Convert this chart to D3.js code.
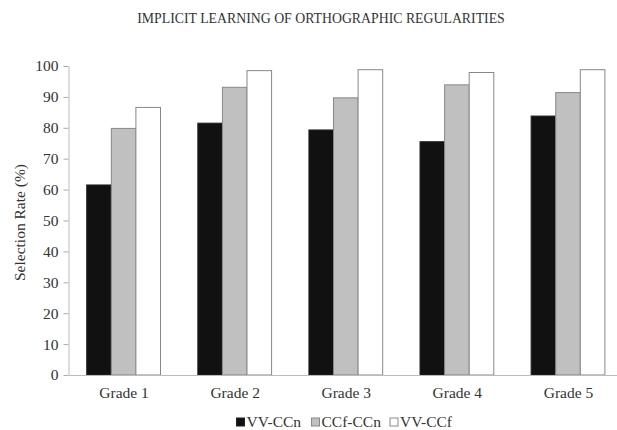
<!DOCTYPE html>
<html>
<head>
<meta charset="utf-8">
<script src="https://cdn.jsdelivr.net/npm/d3@7"></script>
<style>
  body { margin: 0; background: #fff; }
  svg text { font-family: "Liberation Serif", "Times New Roman", serif; fill: #333; }
</style>
</head>
<body>
<div id="chart"></div>
<script>
'use strict';

// data
var grades = ['Grade 1', 'Grade 2', 'Grade 3', 'Grade 4', 'Grade 5'];
var seriesNames = ['VV-CCn', 'CCf-CCn', 'VV-CCf'];
var vvCCn  = [61.5, 81.5, 79.3, 75.5, 83.8];
var ccfCCn = [79.8, 93.1, 89.7, 93.9, 91.4];
var vvCCf  = [86.6, 98.5, 98.8, 97.9, 98.8];
var yTicks = [0, 10, 20, 30, 40, 50, 60, 70, 80, 90, 100];

var seriesValues = [vvCCn, ccfCCn, vvCCf];

//config
var config = {};
config.width  = 617;
config.height = 430;
config.left   = 68.5;
config.right  = 624;
config.top    = 66;
config.bottom = 375;
config.fills   = ['#111', '#c0c0c0', '#fff'];
config.strokes = ['#222', '#888', '#888'];

var svg = d3.select('#chart')
    .append('svg')
    .attr('width', config.width)
    .attr('height', config.height);

var x0 = d3.scaleBand()
    .domain(grades)
    .range([config.left, config.right])
    .padding(0);

var bw = x0.bandwidth();
var x1 = d3.scaleBand()
    .domain(seriesNames)
    .range([bw * 0.164, bw * 0.828])
    .padding(0);

var y = d3.scaleLinear()
    .domain([0, 100])
    .range([config.bottom, config.top]);

//title
svg.append('text')
    .attr('x', 321)
    .attr('y', 23)
    .attr('text-anchor', 'middle')
    .style('font-size', '13.8px')
    .text('IMPLICIT LEARNING OF ORTHOGRAPHIC REGULARITIES');

//y axis
var yAxis = svg.append('g')
    .attr('transform', 'translate(' + config.left + ',0)')
    .call(d3.axisLeft(y).tickValues(yTicks).tickSize(5).tickPadding(5).tickSizeOuter(0));
yAxis.select('.domain').attr('stroke', '#bbb');
yAxis.selectAll('.tick line').attr('stroke', '#aaa');
yAxis.selectAll('.tick text')
    .style('font-size', '15.5px')
    .style('font-family', '"Liberation Serif", serif')
    .attr('fill', '#333');

svg.append('text')
    .attr('transform', 'translate(25,' + ((config.top + config.bottom) / 2 + 2) + ') rotate(-90)')
    .attr('text-anchor', 'middle')
    .style('font-size', '15.5px')
    .text('Selection Rate (%)');

//bars
var groups = svg.selectAll('g.group')
    .data(grades)
    .enter()
    .append('g')
    .attr('class', 'group')
    .attr('transform', function(d){ return 'translate(' + x0(d) + ',0)'; });

groups.selectAll('rect')
    .data(function(d, gi){
        return seriesNames.map(function(s, si){ return {s: s, si: si, v: seriesValues[si][gi]}; });
    })
    .enter()
    .append('rect')
    .attr('x', function(d){ return x1(d.s); })
    .attr('y', function(d){ return y(d.v); })
    .attr('width', x1.bandwidth())
    .attr('height', function(d){ return config.bottom - y(d.v); })
    .attr('fill', function(d){ return config.fills[d.si]; })
    .attr('stroke', function(d){ return config.strokes[d.si]; })
    .attr('stroke-width', 1);

//x axis
var xAxis = svg.append('g')
    .attr('transform', 'translate(0,' + config.bottom + ')')
    .call(d3.axisBottom(x0).tickSize(0).tickPadding(12).tickSizeOuter(0));
xAxis.select('.domain').attr('stroke', '#bbb');
xAxis.selectAll('.tick text')
    .style('font-size', '15.5px')
    .style('font-family', '"Liberation Serif", serif')
    .attr('fill', '#333');

//legend
var legendX = [236.5, 311.5, 390];
var legend = svg.selectAll('g.legend')
    .data(seriesNames)
    .enter()
    .append('g')
    .attr('class', 'legend')
    .attr('transform', function(d, i){ return 'translate(' + legendX[i] + ',418)'; });

legend.append('rect')
    .attr('width', 8)
    .attr('height', 8)
    .attr('fill', function(d, i){ return config.fills[i]; })
    .attr('stroke', function(d, i){ return config.strokes[i]; });

legend.append('text')
    .attr('x', 10)
    .attr('y', 9)
    .style('font-size', '15.5px')
    .text(function(d){ return d; });
</script>
</body>
</html>
